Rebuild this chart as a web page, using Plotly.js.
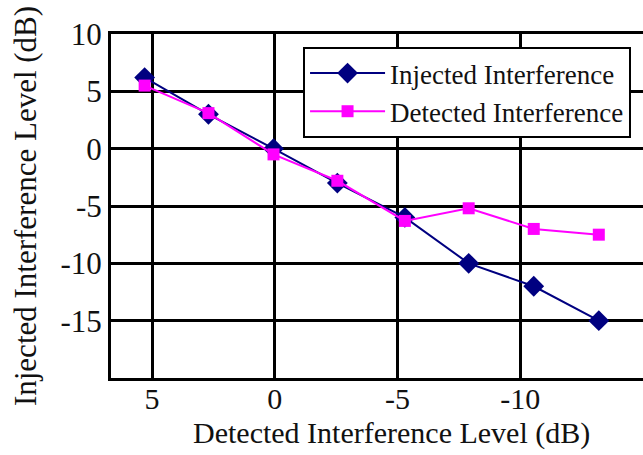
<!DOCTYPE html>
<html>
<head>
<meta charset="utf-8">
<script src="https://cdn.plot.ly/plotly-3.0.1.min.js"></script>
<style>html,body{margin:0;padding:0;background:#fff;}#chart{width:643px;height:455px;}</style>
</head>
<body>
<div id="chart"></div>
<script>
// Data
const detectedLevel = [5.3, 2.7, 0.05, -2.55, -5.3, -7.9, -10.55, -13.2];
const injectedSeries = [6.2, 3.0, 0.0, -3.0, -6.0, -10.0, -12.0, -15.0];
const detectedSeries = [5.5, 3.1, -0.5, -2.8, -6.3, -5.2, -7.0, -7.5];
const xTickVals = [5, 0, -5, -10];
const xTickText = ["5", "0", "-5", "-10"];
const yTickVals = [10, 5, 0, -5, -10, -15];
const yTickText = ["10", "5", "0", "-5", "-10", "-15"];
const seriesNames = ["Injected Interference", "Detected Interference"];
const xTitle = "Detected Interference Level (dB)";
const yTitle = "Injected Interference Level (dB)";

const serif = "'Liberation Serif', 'Times New Roman', Times, serif";

const traces = [
  {
    x: detectedLevel, y: injectedSeries, name: seriesNames[0],
    type: "scatter", mode: "lines+markers",
    line: {color: "#000080", width: 2},
    marker: {symbol: "diamond", size: 16, color: "#000080"}
  },
  {
    x: detectedLevel, y: detectedSeries, name: seriesNames[1],
    type: "scatter", mode: "lines+markers",
    line: {color: "#FF00FF", width: 2},
    marker: {symbol: "square", size: 12, color: "#FF00FF"}
  }
];

const layout = {
  width: 643, height: 455,
  margin: {l: 111, r: 0, t: 34, b: 77},
  paper_bgcolor: "#fff", plot_bgcolor: "#fff",
  font: {family: serif, color: "#111", size: 28},
  showlegend: true,
  legend: {
    x: 0.361, y: 0.962, xanchor: "left", yanchor: "top",
    bgcolor: "#fff", bordercolor: "#000", borderwidth: 2,
    font: {family: serif, size: 27, color: "#111"},
    itemwidth: 75,
    tracegroupgap: 0
  },
  xaxis: {
    range: [6.67, -15],
    tickvals: xTickVals, ticktext: xTickText,
    showgrid: true, gridcolor: "#000", gridwidth: 3,
    zeroline: false,
    showline: true, linecolor: "#000", linewidth: 3, mirror: true,
    ticks: "", ticklabelstandoff: -8,
    tickfont: {family: serif, size: 30, color: "#111"}
  },
  yaxis: {
    range: [-20, 10],
    tickvals: yTickVals, ticktext: yTickText,
    showgrid: true, gridcolor: "#000", gridwidth: 3,
    zeroline: false,
    showline: true, linecolor: "#000", linewidth: 3, mirror: false,
    ticks: "", tickfont: {family: serif, size: 31, color: "#111"},
    title: {text: yTitle, font: {family: serif, size: 31, color: "#111"}, standoff: 15}
  },
  annotations: [{
    text: xTitle, xref: "paper", yref: "paper",
    x: 0.528, y: 0, xanchor: "center", yanchor: "middle", yshift: -55,
    showarrow: false, borderpad: 0, font: {family: serif, size: 30, color: "#111"}
  }]
};

Plotly.newPlot("chart", traces, layout, {displayModeBar: false, staticPlot: true});
</script>
</body>
</html>
